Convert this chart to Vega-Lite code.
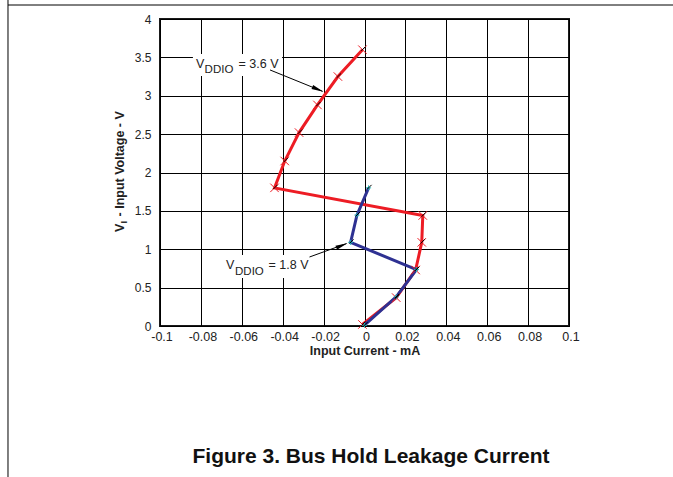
{
  "$schema": "https://vega.github.io/schema/vega-lite/v6.json",
  "width": 409,
  "height": 307,
  "autosize": "none",
  "padding": {"left": 160, "top": 19, "right": 104, "bottom": 151},
  "background": "white",
  "config": {
    "view": {"stroke": "#1a1a1a", "strokeWidth": 2},
    "font": "Liberation Sans"
  },
  "datasets": {
    "curves": [
      {"series": "3.6 V", "order": 1, "x": -0.001, "y": 3.6},
      {"series": "3.6 V", "order": 2, "x": -0.013, "y": 3.25},
      {"series": "3.6 V", "order": 3, "x": -0.023, "y": 2.88},
      {"series": "3.6 V", "order": 4, "x": -0.032, "y": 2.52},
      {"series": "3.6 V", "order": 5, "x": -0.039, "y": 2.15},
      {"series": "3.6 V", "order": 6, "x": -0.044, "y": 1.8},
      {"series": "3.6 V", "order": 7, "x": 0.0285, "y": 1.44},
      {"series": "3.6 V", "order": 8, "x": 0.028, "y": 1.09},
      {"series": "3.6 V", "order": 9, "x": 0.025, "y": 0.73},
      {"series": "3.6 V", "order": 10, "x": 0.0155, "y": 0.37},
      {"series": "3.6 V", "order": 11, "x": -0.001, "y": 0.02},
      {"series": "1.8 V", "order": 1, "x": 0.002, "y": 1.8},
      {"series": "1.8 V", "order": 2, "x": -0.0037, "y": 1.445},
      {"series": "1.8 V", "order": 3, "x": -0.0068, "y": 1.09},
      {"series": "1.8 V", "order": 4, "x": 0.0254, "y": 0.735},
      {"series": "1.8 V", "order": 5, "x": 0.0155, "y": 0.38},
      {"series": "1.8 V", "order": 6, "x": 0.0, "y": 0.01}
    ],
    "labels": [
      {"text": "V", "part": "main", "x": -0.0824, "y": 3.362},
      {"text": "DDIO", "part": "sub", "x": -0.0782, "y": 3.3},
      {"text": "= 3.6 V", "part": "main", "x": -0.0616, "y": 3.362},
      {"text": "V", "part": "main", "x": -0.0677, "y": 0.739},
      {"text": "DDIO", "part": "sub", "x": -0.0633, "y": 0.664},
      {"text": "= 1.8 V", "part": "main", "x": -0.0469, "y": 0.739}
    ],
    "boxes": [
      {"x": -0.0839, "x2": -0.0403, "y": 3.544, "y2": 3.257},
      {"x": -0.0687, "x2": -0.0271, "y": 0.925, "y2": 0.625}
    ],
    "arrows": [
      {"label": "3.6 V", "x": -0.0462, "y": 3.336, "x2": -0.0205, "y2": 3.058},
      {"label": "1.8 V", "x": -0.0269, "y": 0.899, "x2": -0.0088, "y2": 1.074}
    ],
    "heads": [
      {"label": "3.6 V", "x": -0.0228, "y": 3.083},
      {"label": "1.8 V", "x": -0.0111, "y": 1.048}
    ],
    "ytitle": [
      {"text": "V", "part": "main", "x": -0.11736, "y": 1.225},
      {"text": "I", "part": "sub", "x": -0.1159, "y": 1.337},
      {"text": "- Input Voltage - V", "part": "main", "x": -0.11736, "y": 1.427}
    ],
    "figtitle": [
      {"text": "Figure 3. Bus Hold Leakage Current", "x": 0.0032, "y": -1.785}
    ],
    "frame": [
      {"x": -0.17433, "x2": -0.17433, "y": 4.26, "y2": -1.98},
      {"x": -0.17433, "x2": 0.152, "y": 4.1824, "y2": 4.1824}
    ]
  },
  "encoding": {
    "x": {
      "field": "x", "type": "quantitative",
      "scale": {"domain": [-0.1, 0.1], "nice": false, "zero": false},
      "axis": {
        "values": [-0.1, -0.08, -0.06, -0.04, -0.02, 0, 0.02, 0.04, 0.06, 0.08, 0.1],
        "labelExpr": "replace(format(datum.value, '~g'), '\u2212', '-')",
        "grid": true, "gridColor": "#000000", "gridWidth": 1, "gridOpacity": 1,
        "ticks": false, "tickSize": 0, "domain": false,
        "labelFontSize": 12.5, "labelColor": "#222222", "labelPadding": 4, "labelOffset": 1.5,
        "labelFont": "Liberation Sans", "labelOverlap": false, "labelFlush": false,
        "title": "Input Current - mA", "titleFontSize": 12.5, "titleFontWeight": "bold",
        "titleColor": "#222222", "titlePadding": 2, "titleFont": "Liberation Sans"
      }
    },
    "y": {
      "field": "y", "type": "quantitative",
      "scale": {"domain": [0, 4], "nice": false, "zero": false},
      "axis": {
        "values": [0, 0.5, 1, 1.5, 2, 2.5, 3, 3.5, 4],
        "labelExpr": "format(datum.value, '~g')",
        "grid": true, "gridColor": "#000000", "gridWidth": 1, "gridOpacity": 1,
        "ticks": false, "tickSize": 0, "domain": false,
        "labelFontSize": 12, "labelColor": "#222222", "labelPadding": 9,
        "labelFont": "Liberation Sans", "labelOverlap": false, "labelFlush": false,
        "title": null
      }
    }
  },
  "layer": [
    {
      "data": {"name": "frame"},
      "mark": {"type": "rule", "stroke": "#000000", "strokeWidth": 1},
      "encoding": {"x2": {"field": "x2"}, "y2": {"field": "y2"}}
    },
    {
      "data": {"name": "boxes"},
      "mark": {"type": "rect", "fill": "white", "stroke": null},
      "encoding": {"x2": {"field": "x2"}, "y2": {"field": "y2"}}
    },
    {
      "data": {"name": "curves"},
      "mark": {"type": "line", "strokeWidth": 3},
      "encoding": {
        "color": {
          "field": "series", "type": "nominal",
          "scale": {"domain": ["3.6 V", "1.8 V"], "range": ["#ed1c24", "#2e3192"]},
          "legend": null
        },
        "order": {"field": "order", "type": "quantitative"}
      }
    },
    {
      "data": {"name": "curves"},
      "transform": [{"filter": "datum.series === '3.6 V'"}],
      "mark": {"type": "point", "shape": "M-1,-1L1,1M-1,1L1,-1", "size": 72, "filled": false, "stroke": "#ed1c24", "strokeWidth": 1, "opacity": 1}
    },
    {
      "data": {"name": "curves"},
      "transform": [{"filter": "datum.series === '1.8 V'"}],
      "mark": {"type": "point", "shape": "M-1,0L1,0M0,-1L0,1", "size": 25, "filled": false, "stroke": "#1fb5b5", "strokeWidth": 1, "opacity": 1}
    },
    {
      "data": {"name": "curves"},
      "mark": {"type": "point", "shape": "M-0.4,0.4L1,-1", "size": 36, "filled": false, "stroke": "#000000", "strokeWidth": 1, "opacity": 1}
    },
    {
      "data": {"name": "arrows"},
      "mark": {"type": "rule", "stroke": "#000000", "strokeWidth": 1},
      "encoding": {"x2": {"field": "x2"}, "y2": {"field": "y2"}}
    },
    {
      "data": {"name": "heads"},
      "transform": [{"filter": "datum.label === '3.6 V'"}],
      "mark": {"type": "point", "shape": "M-1,-0.36L1,0L-1,0.36Z", "size": 144, "filled": true, "fill": "#000000", "opacity": 1, "angle": 22.8}
    },
    {
      "data": {"name": "heads"},
      "transform": [{"filter": "datum.label === '1.8 V'"}],
      "mark": {"type": "point", "shape": "M-1,-0.36L1,0L-1,0.36Z", "size": 144, "filled": true, "fill": "#000000", "opacity": 1, "angle": 337.7}
    },
    {
      "data": {"name": "labels"},
      "transform": [{"filter": "datum.part === 'main'"}],
      "mark": {"type": "text", "align": "left", "baseline": "alphabetic", "fontSize": 12.5, "color": "#222222", "font": "Liberation Sans"},
      "encoding": {"text": {"field": "text"}}
    },
    {
      "data": {"name": "labels"},
      "transform": [{"filter": "datum.part === 'sub'"}],
      "mark": {"type": "text", "align": "left", "baseline": "alphabetic", "fontSize": 11.5, "color": "#222222", "font": "Liberation Sans"},
      "encoding": {"text": {"field": "text"}}
    },
    {
      "data": {"name": "ytitle"},
      "transform": [{"filter": "datum.part === 'main'"}],
      "mark": {"type": "text", "align": "left", "baseline": "alphabetic", "angle": 270, "fontSize": 12.5, "fontWeight": "bold", "color": "#222222", "font": "Liberation Sans"},
      "encoding": {"text": {"field": "text"}}
    },
    {
      "data": {"name": "ytitle"},
      "transform": [{"filter": "datum.part === 'sub'"}],
      "mark": {"type": "text", "align": "left", "baseline": "alphabetic", "angle": 270, "fontSize": 9.5, "fontWeight": "bold", "color": "#222222", "font": "Liberation Sans"},
      "encoding": {"text": {"field": "text"}}
    },
    {
      "data": {"name": "figtitle"},
      "mark": {"type": "text", "align": "center", "baseline": "alphabetic", "fontSize": 21, "fontWeight": "bold", "color": "#111111", "font": "Liberation Sans"},
      "encoding": {"text": {"field": "text"}}
    }
  ]
}
